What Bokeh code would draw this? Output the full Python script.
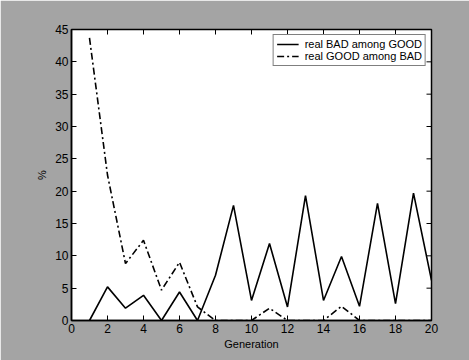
import math
from bokeh.plotting import figure
from bokeh.models import Range1d, Legend, LegendItem, FixedTicker
from bokeh.embed import file_html
from bokeh.resources import INLINE

generation = list(range(1, 21))
bad_among_good = [0, 5.2, 1.9, 3.9, 0, 4.4, 0, 7.0, 17.8, 3.1, 11.9, 2.1, 19.3, 3.1, 9.9, 2.2, 18.1, 2.6, 19.7, 6.2]
good_among_bad = [43.7, 22.5, 8.8, 12.4, 4.7, 9.0, 2.1, 0, 0, 0, 1.9, 0, 0, 0, 2.2, 0, 0, 0, 0, 0]
x_ticks = list(range(0, 21, 2))
y_ticks = list(range(0, 46, 5))
X_MAX, Y_MAX = 20, 45

FONT = "Liberation Sans"

p = figure(width=469, height=360, output_backend="svg", toolbar_location=None,
           x_range=Range1d(0, X_MAX), y_range=Range1d(0, Y_MAX),
           min_border_left=71, min_border_right=38, min_border_top=29, min_border_bottom=40)
p.background_fill_color = "white"
p.border_fill_color = "#a4a4a4"
p.outline_line_color = "black"
p.outline_line_width = 1.5
p.grid.visible = False

r1 = p.line(generation, bad_among_good, line_color="black", line_width=1.6)
r2 = p.line(generation, good_among_bad, line_color="black", line_width=1.6, line_dash="7 3 2 3")

# mirrored tick marks on the top and right edges (clipped to the frame)
p.scatter(x=x_ticks, y=[Y_MAX] * len(x_ticks), marker="dash", size=10, angle=math.pi / 2,
          line_color="black", line_width=1)
p.scatter(x=[X_MAX] * len(y_ticks), y=y_ticks, marker="dash", size=10, angle=0,
          line_color="black", line_width=1)

for ax in (p.xaxis[0], p.yaxis[0]):
    ax.major_tick_in = 5
    ax.major_tick_out = 0
    ax.minor_tick_in = 0
    ax.minor_tick_out = 0
    ax.axis_line_color = "black"
    ax.axis_line_width = 1.5
    ax.major_label_text_font = FONT
    ax.major_label_text_font_size = "12px"
    ax.major_label_text_color = "black"
    ax.axis_label_text_font = FONT
    ax.axis_label_text_font_size = "11px"
    ax.axis_label_text_font_style = "normal"
    ax.axis_label_text_color = "black"

p.xaxis[0].ticker = FixedTicker(ticks=x_ticks)
p.yaxis[0].ticker = FixedTicker(ticks=y_ticks)
p.xaxis[0].axis_label = "Generation"
p.xaxis[0].axis_label_standoff = 2
p.xaxis[0].major_label_standoff = 3
p.yaxis[0].axis_label = "%"
p.yaxis[0].axis_label_standoff = 4
p.yaxis[0].major_label_standoff = 3

legend = Legend(items=[LegendItem(label="real BAD among GOOD", renderers=[r1]),
                       LegendItem(label="real GOOD among BAD", renderers=[r2])],
                location="top_right")
legend.label_text_font = FONT
legend.label_text_font_size = "11px"
legend.label_text_color = "black"
legend.border_line_color = "black"
legend.border_line_width = 1
legend.background_fill_color = "white"
legend.background_fill_alpha = 1
legend.glyph_width = 22
legend.glyph_height = 12
legend.spacing = 0
legend.padding = 3
legend.margin = 5
legend.label_standoff = 6
legend.label_height = 12
p.add_layout(legend)

open("out.html", "w").write(file_html(p, INLINE))
